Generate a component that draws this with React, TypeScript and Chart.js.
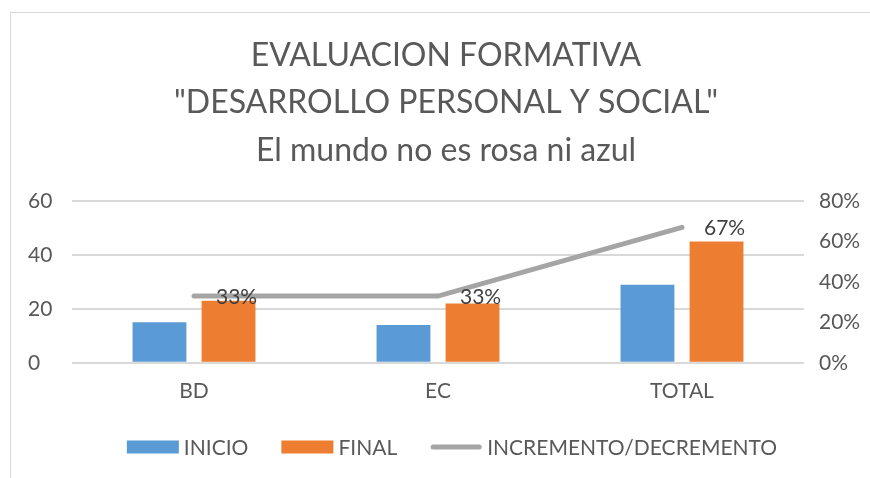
import React, { useEffect, useRef } from "react";
import { Chart, registerables } from "chart.js";

Chart.register(...registerables);

const categories = ["BD", "EC", "TOTAL"];
const inicio = [15, 14, 29];
const final = [23, 22, 45];
const incremento = [0.33, 0.33, 0.67];
const titleLines = ["EVALUACION FORMATIVA", "\"DESARROLLO PERSONAL Y SOCIAL\"", "El mundo no es rosa ni azul"];
const seriesNames = ["INICIO", "FINAL", "INCREMENTO/DECREMENTO"];

const FONT = "Lato";
const TEXT = "#595959";

const lineLabels = {
  id: "lineLabels",
  afterDatasetsDraw(chart: any) {
    const ctx = chart.ctx;
    const meta = chart.getDatasetMeta(2);
    const ds = chart.data.datasets[2];
    ctx.save();
    ctx.font = `21px ${FONT}`;
    ctx.fillStyle = "#404040";
    ctx.textAlign = "left";
    ctx.textBaseline = "middle";
    meta.data.forEach((pt: any, i: number) => {
      const v = ds.data[i] as number;
      ctx.fillText(Math.round(v * 100) + "%", pt.x + 22, pt.y + 1);
    });
    ctx.restore();
  },
};

const customLegend = {
  id: "customLegend",
  afterDraw(chart: any) {
    const ctx = chart.ctx;
    const ds = chart.data.datasets;
    const boxW = 52;
    const boxH = 13;
    const textGap = 5;
    const itemGap = 33;
    const cy = 435;
    ctx.save();
    ctx.font = `21px ${FONT}`;
    ctx.textBaseline = "middle";
    ctx.textAlign = "left";
    const widths = ds.map((d: any) => boxW + textGap + ctx.measureText(d.label).width);
    const total = widths.reduce((a: number, b: number) => a + b, 0) + itemGap * (ds.length - 1);
    let x = chart.width / 2 + 6 - total / 2;
    ds.forEach((d: any, i: number) => {
      if (d.type === "line") {
        ctx.strokeStyle = d.borderColor;
        ctx.lineWidth = 5;
        ctx.lineCap = "round";
        ctx.beginPath();
        ctx.moveTo(x + 3, cy);
        ctx.lineTo(x + boxW - 3, cy);
        ctx.stroke();
      } else {
        ctx.fillStyle = d.backgroundColor;
        ctx.fillRect(x, cy - boxH / 2, boxW, boxH);
      }
      ctx.fillStyle = TEXT;
      ctx.fillText(d.label, x + boxW + textGap, cy + 1);
      x += widths[i] + itemGap;
    });
    ctx.restore();
  },
};

export default function App() {
  const ref = useRef<HTMLCanvasElement>(null);
  useEffect(() => {
    const chart = new Chart(ref.current!, {
      type: "bar",
      data: {
        labels: categories,
        datasets: [
          {
            label: seriesNames[0],
            data: inicio,
            backgroundColor: "#5B9BD5",
            yAxisID: "y",
            categoryPercentage: 0.566,
            barPercentage: 0.78,
          },
          {
            label: seriesNames[1],
            data: final,
            backgroundColor: "#ED7D31",
            yAxisID: "y",
            categoryPercentage: 0.566,
            barPercentage: 0.78,
          },
          {
            type: "line",
            label: seriesNames[2],
            data: incremento,
            borderColor: "#A5A5A5",
            backgroundColor: "#A5A5A5",
            borderWidth: 5,
            borderCapStyle: "round",
            pointRadius: 0,
            yAxisID: "y1",
          } as any,
        ],
      },
      options: {
        responsive: false,
        animation: false,
        layout: { padding: { left: 18, right: 18, top: 0, bottom: 58 } },
        plugins: {
          tooltip: { enabled: false },
          legend: { display: false },
          title: {
            display: true,
            text: titleLines,
            color: TEXT,
            font: { family: FONT, size: 32, weight: "normal", lineHeight: 1.48 },
            padding: { top: 20, bottom: 27 },
          },
        },
        scales: {
          x: {
            grid: { display: false, drawTicks: false },
            border: { display: false },
            ticks: { color: TEXT, font: { family: FONT, size: 21 }, padding: 16 },
          },
          y: {
            position: "left",
            min: 0,
            max: 60,
            afterFit(scale: any) { scale.width = 44; },
            ticks: { stepSize: 20, color: TEXT, font: { family: FONT, size: 21 }, crossAlign: "far", padding: 10 },
            grid: { color: "#D9D9D9", lineWidth: 2, drawTicks: false },
            border: { display: false },
          },
          y1: {
            position: "right",
            min: 0,
            max: 0.8,
            afterFit(scale: any) { scale.width = 60; },
            ticks: {
              stepSize: 0.2,
              color: TEXT,
              font: { family: FONT, size: 21 },
              padding: 15,
              callback: (v: any) => Math.round(Number(v) * 100) + "%",
            },
            grid: { display: false, drawTicks: false },
            border: { display: false },
          },
        },
      },
      plugins: [lineLabels, customLegend],
    });
    return () => chart.destroy();
  }, []);
  return (
    <div style={{ position: "fixed", left: 0, top: 0, width: 870, height: 478, overflow: "hidden", background: "#fff" }}>
      <div style={{ position: "absolute", left: 10, top: 12, width: 900, height: 500, border: "1px solid #D9D9D9" }} />
      <canvas ref={ref} width={872} height={466} style={{ position: "absolute", left: 10, top: 12, width: 872, height: 466 }} />
    </div>
  );
}
